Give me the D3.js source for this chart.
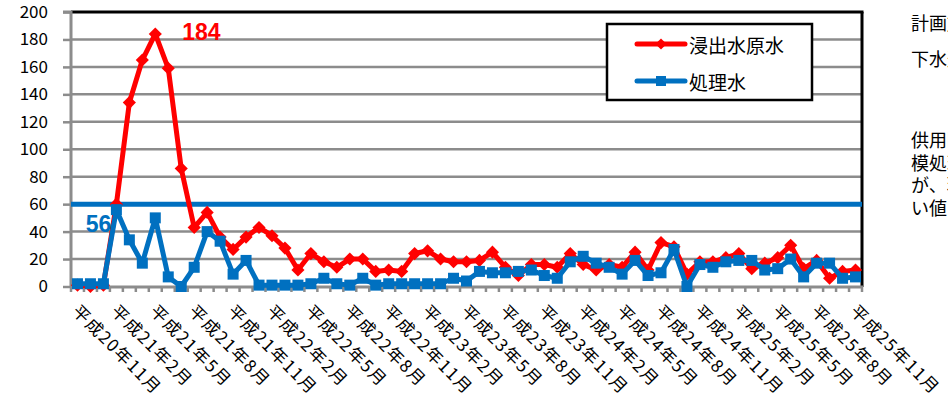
<!DOCTYPE html>
<html><head><meta charset="utf-8">
<script src="https://cdn.jsdelivr.net/npm/d3@7"></script>
<style>
html,body{margin:0;padding:0;background:#fff;overflow:hidden}
svg{display:block}
</style></head>
<body>
<svg id="chart" width="948" height="394"></svg>
<script>
const categories = [
"平成20年11月","平成20年12月","平成21年1月","平成21年2月","平成21年3月","平成21年4月","平成21年5月","平成21年6月","平成21年7月","平成21年8月","平成21年9月","平成21年10月","平成21年11月","平成21年12月",
"平成22年1月","平成22年2月","平成22年3月","平成22年4月","平成22年5月","平成22年6月","平成22年7月","平成22年8月","平成22年9月","平成22年10月","平成22年11月","平成22年12月",
"平成23年1月","平成23年2月","平成23年3月","平成23年4月","平成23年5月","平成23年6月","平成23年7月","平成23年8月","平成23年9月","平成23年10月","平成23年11月","平成23年12月",
"平成24年1月","平成24年2月","平成24年3月","平成24年4月","平成24年5月","平成24年6月","平成24年7月","平成24年8月","平成24年9月","平成24年10月","平成24年11月","平成24年12月",
"平成25年1月","平成25年2月","平成25年3月","平成25年4月","平成25年5月","平成25年6月","平成25年7月","平成25年8月","平成25年9月","平成25年10月","平成25年11月"];
const tickLabels = ["平成20年11月","平成21年2月","平成21年5月","平成21年8月","平成21年11月","平成22年2月","平成22年5月","平成22年8月","平成22年11月","平成23年2月","平成23年5月","平成23年8月","平成23年11月","平成24年2月","平成24年5月","平成24年8月","平成24年11月","平成25年2月","平成25年5月","平成25年8月","平成25年11月"];
const rawWater = [1,0,1,60,134,165,184,159,86,43,54,36,27,36,43,37,28,12,24,18,14,20,20,11,12,11,24,26,20,18,18,19,25,14,8,16,16,14,24,16,12,16,14,25,12,32,29,9,18,18,21,24,13,17,21,30,13,19,6,11,12];
const treatedWater = [2,2,2,56,34,17,50,7,0,14,40,33,9,19,1,1,1,1,2,6,2,1,6,1,2,2,2,2,2,6,4,11,10,10,11,12,8,6,18,22,17,14,9,19,8,10,27,0,16,14,18,19,19,12,13,20,7,17,17,6,7];
const limitValue = [60, 60];
const yTicks = [0,20,40,60,80,100,120,140,160,180,200];
const seriesNames = ["浸出水原水","処理水"];
const peakLabel = "184";
const treatedPeakLabel = "56";
const noteLines1 = ["計画放流水質基準値","下水道排除基準値"];
const noteLines2 = ["供用開始当初は小規","模処理であった","が、現在は基準を下回","い値で推移している"];

const svg = d3.select("#chart");
const L = 71, R = 862, T = 12, B = 287;
const red = "#ff0000", blue = "#0070c0", gridC = "#8c8c8c";
const x = d3.scaleBand().domain(categories).range([L, R]).padding(0);
const y = d3.scaleLinear().domain([0, 200]).range([B - 0.5, T]);
const cx = d => x(d) + x.bandwidth() / 2;

// gridlines
svg.append("g").selectAll("line").data(yTicks.filter(v => v > 0 && v < 200)).join("line")
  .attr("x1", L).attr("x2", R).attr("y1", d => y(d)).attr("y2", d => y(d))
  .attr("stroke", gridC).attr("stroke-width", 2.5);
// top border + right border
svg.append("line").attr("x1", L).attr("x2", R + 1.5).attr("y1", y(200)).attr("y2", y(200)).attr("stroke", "#000").attr("stroke-width", 3);
svg.append("line").attr("x1", R).attr("x2", R).attr("y1", y(200)).attr("y2", B).attr("stroke", "#000").attr("stroke-width", 3);

// y axis
const yAxis = d3.axisLeft(y).tickValues(yTicks).tickSize(8).tickPadding(15);
const gy = svg.append("g").attr("transform", `translate(${L},0)`).call(yAxis);
gy.select(".domain").attr("stroke", gridC).attr("stroke-width", 3).attr("d", `M-8,${y(200)}H0V${B}`);
gy.selectAll(".tick line").attr("stroke", gridC).attr("stroke-width", 2.5);
gy.selectAll(".tick text").attr("font-family", "'Noto Sans CJK JP', sans-serif").attr("font-size", 17).attr("fill", "#000");

// x axis
const xAxis = d3.axisBottom(x).tickValues([]).tickSize(0);
const gx = svg.append("g").attr("transform", `translate(0,${B})`).call(xAxis);
gx.select(".domain").attr("stroke", gridC).attr("stroke-width", 3).attr("d", `M${L - 1},0H${R + 1}`);
gx.selectAll(".mtick").data(categories.concat(["__end"])).join("line").attr("class", "mtick")
  .attr("x1", (d, i) => i < categories.length ? x(d) : R).attr("x2", (d, i) => i < categories.length ? x(d) : R)
  .attr("y1", 0).attr("y2", 5).attr("stroke", gridC).attr("stroke-width", 2.5);
gx.selectAll(".xl").data(tickLabels).join("text").attr("class", "xl")
  .attr("transform", d => `translate(${cx(d) + 5},14) rotate(45)`)
  .attr("text-anchor", "start")
  .attr("dominant-baseline", "hanging")
  .attr("letter-spacing", 1.5)
  .attr("font-family", "'Noto Sans CJK JP', sans-serif").attr("font-size", 17).attr("fill", "#000")
  .text(d => d);

// limit line
svg.append("line").attr("x1", L).attr("x2", R).attr("y1", y(limitValue[0])).attr("y2", y(limitValue[1]))
  .attr("stroke", blue).attr("stroke-width", 5);

const line = d3.line().x((d, i) => cx(categories[i])).y(d => y(d));
// red series
svg.append("path").datum(rawWater).attr("d", line).attr("fill", "none").attr("stroke", red).attr("stroke-width", 5).attr("stroke-linejoin", "round");
svg.append("g").selectAll("path").data(rawWater).join("path")
  .attr("d", d3.symbol(d3.symbolDiamond2, 110)).attr("transform", (d, i) => `translate(${cx(categories[i])},${y(d)})`).attr("fill", red);
// blue series
svg.append("path").datum(treatedWater).attr("d", line).attr("fill", "none").attr("stroke", blue).attr("stroke-width", 5).attr("stroke-linejoin", "round");
svg.append("g").selectAll("rect").data(treatedWater).join("rect")
  .attr("x", (d, i) => cx(categories[i]) - 5.5).attr("y", d => y(d) - 5.5).attr("width", 11).attr("height", 11).attr("fill", blue);

// data labels
const iPeak = rawWater.indexOf(d3.max(rawWater));
svg.append("text").attr("x", cx(categories[iPeak]) + 27).attr("y", y(rawWater[iPeak]) + 6)
  .attr("font-family", "'Liberation Sans', Arial, sans-serif").attr("font-weight", "bold").attr("font-size", 23).attr("fill", red).text(peakLabel);
const iBp = treatedWater.indexOf(d3.max(treatedWater));
svg.append("text").attr("x", cx(categories[iBp]) - 5).attr("y", y(treatedWater[iBp]) + 22).attr("text-anchor", "end")
  .attr("font-family", "'Liberation Sans', Arial, sans-serif").attr("font-weight", "bold").attr("font-size", 23).attr("fill", blue).text(treatedPeakLabel);

// legend
const lg = svg.append("g");
lg.append("rect").attr("x", 607).attr("y", 24).attr("width", 205).attr("height", 76).attr("fill", "#fff").attr("stroke", "#000").attr("stroke-width", 2.5);
[[red, 44, "d"], [blue, 81, "s"]].forEach((s, k) => {
  lg.append("line").attr("x1", 637).attr("x2", 685).attr("y1", s[1]).attr("y2", s[1]).attr("stroke", s[0]).attr("stroke-width", 5).attr("stroke-linecap", "round");
  if (s[2] === "d") lg.append("path").attr("d", d3.symbol(d3.symbolDiamond2, 80)).attr("transform", `translate(661,${s[1]})`).attr("fill", s[0]);
  else lg.append("rect").attr("x", 656).attr("y", s[1] - 5).attr("width", 10).attr("height", 10).attr("fill", s[0]);
  lg.append("text").attr("x", 689).attr("y", s[1]).attr("dominant-baseline", "central")
    .attr("font-family", "'Noto Sans CJK JP', sans-serif").attr("font-size", 19).attr("fill", "#000").text(seriesNames[k]);
});

// side note (clipped by the window edge)
const note = svg.append("g").attr("font-family", "'Noto Sans CJK JP', sans-serif").attr("font-size", 18).attr("fill", "#000");
noteLines1.forEach((t, i) => note.append("text").attr("x", 911).attr("y", 22 + i * 36).attr("dominant-baseline", "central").text(t));
noteLines2.forEach((t, i) => note.append("text").attr("x", 911).attr("y", 139 + i * 22.5).attr("dominant-baseline", "central").text(t));
</script>
</body></html>
